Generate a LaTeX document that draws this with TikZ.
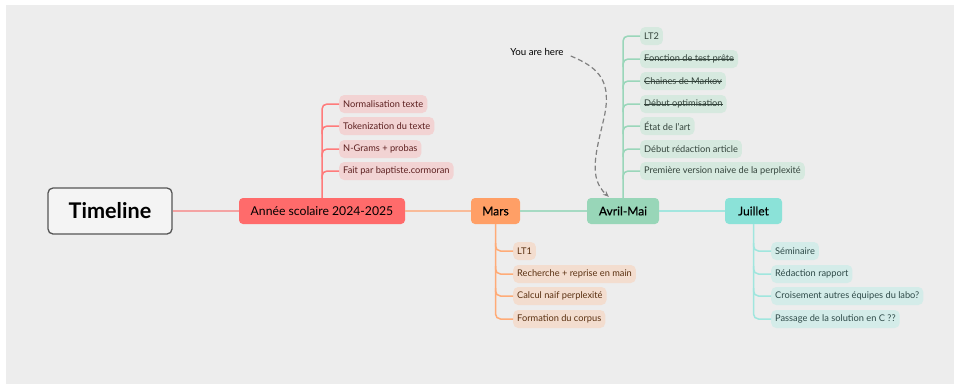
\documentclass[tikz,border=0pt]{standalone}
\usepackage{fontspec}
\setmainfont{Lato}
\newfontfamily\semifont{Lato}[FakeBold=0.7]
\usetikzlibrary{calc,arrows.meta}
\definecolor{bg}{HTML}{EDEDED}
\definecolor{tlborder}{HTML}{555555}
\definecolor{redfill}{HTML}{FF6B6B}
\definecolor{redline}{HTML}{F4A3A3}
\definecolor{redbr}{HTML}{FF7B7B}
\definecolor{redleaf}{HTML}{F2D3D3}
\definecolor{redtext}{HTML}{5C1F1F}
\definecolor{orfill}{HTML}{FF9F66}
\definecolor{orline}{HTML}{F9BB99}
\definecolor{orbr}{HTML}{FFAB77}
\definecolor{orleaf}{HTML}{F3DDCF}
\definecolor{ortext}{HTML}{5A3010}
\definecolor{grfill}{HTML}{98D6B8}
\definecolor{grline}{HTML}{A6DAC3}
\definecolor{grbr}{HTML}{9AD6BA}
\definecolor{grleaf}{HTML}{D6E9DF}
\definecolor{grtext}{HTML}{34443C}
\definecolor{cyfill}{HTML}{8BE2D8}
\definecolor{cyline}{HTML}{A3E6DF}
\definecolor{cybr}{HTML}{A0E6DE}
\definecolor{cyleaf}{HTML}{D4ECE9}
\definecolor{cytext}{HTML}{2E4A48}
\definecolor{arrowgray}{HTML}{808080}
\tikzset{
  mainbox/.style={rounded corners=4pt, minimum height=26pt, inner sep=0pt, font=\fontsize{12.2}{14}\selectfont, text=black},
  monthbox/.style={mainbox, font=\fontsize{12}{14}\selectfont\semifont},
  leaf/.style={rounded corners=5pt, minimum height=18pt, inner xsep=4pt, inner ysep=0pt, anchor=west, font=\fontsize{9.25}{11}\selectfont},
  redleafs/.style={leaf, fill=redleaf, text=redtext},
  orleafs/.style={leaf, fill=orleaf, text=ortext},
  grleafs/.style={leaf, fill=grleaf, text=grtext},
  cyleafs/.style={leaf, fill=cyleaf, text=cytext},
  br/.style={rounded corners=5pt, line width=1.5pt},
  link/.style={line width=1.5pt},
  strike/.style={grtext, line width=0.6pt},
}
\begin{document}
\begin{tikzpicture}[x=1pt,y=-1pt]
\useasboundingbox (0,0) rectangle (954,384);
\fill[white] (0,0) rectangle (954,384);
\fill[bg] (6,5) rectangle (954,384);

% main nodes
\node[draw=tlborder, fill=bg!60!white, line width=1.3pt, rounded corners=5pt, minimum width=124pt, minimum height=46pt, inner sep=0pt, font=\fontsize{21.6}{24}\selectfont\bfseries] (tl) at (110,211) {Timeline};
\node[mainbox, fill=redfill, minimum width=166pt] (annee) at (322,211) {Année scolaire 2024-2025};
\node[monthbox, fill=orfill, minimum width=49pt] (mars) at (495.5,211) {Mars};
\node[monthbox, fill=grfill, minimum width=72pt] (avril) at (623,211) {Avril-Mai};
\node[monthbox, fill=cyfill, minimum width=57pt] (juil) at (753.5,211) {Juillet};

\draw[link, redline] (tl) -- (annee);
\draw[link, orline] (annee) -- (mars);
\draw[link, grline] (mars) -- (avril);
\draw[link, cyline] (avril) -- (juil);

% Annee leaves
\node[redleafs] (a1) at (339,104) {Normalisation texte};
\node[redleafs] (a2) at (339,126) {Tokenization du texte};
\node[redleafs] (a3) at (339,149) {N-Grams + probas};
\node[redleafs] (a4) at (339,171) {Fait par baptiste.cormoran};
\draw[br, redbr] (annee.north) |- (a1.west);
\foreach \n in {a2,a3,a4} \draw[br, redbr] ($(annee.north |- \n.west)+(0,8)$) |- (\n.west);

% Mars leaves
\node[orleafs] (m1) at (513,251) {LT1};
\node[orleafs] (m2) at (513,274) {Recherche + reprise en main};
\node[orleafs] (m3) at (513,296) {Calcul naif perplexité};
\node[orleafs] (m4) at (513,319) {Formation du corpus};
\draw[br, orbr] (mars.south) |- (m4.west);
\foreach \n in {m1,m2,m3} \draw[br, orbr] ($(mars.south |- \n.west)+(0,-8)$) |- (\n.west);

% Avril leaves
\node[grleafs] (v1) at (640,36) {LT2};
\node[grleafs] (v2) at (640,59) {Fonction de test prête};
\node[grleafs] (v3) at (640,81) {Chaines de Markov};
\node[grleafs] (v4) at (640,104) {Début optimisation};
\node[grleafs] (v5) at (640,126) {État de l'art};
\node[grleafs] (v6) at (640,149) {Début rédaction article};
\node[grleafs] (v7) at (640,171) {Première version naive de la perplexité};
\foreach \n in {v2,v3,v4} \draw[strike] ($(\n.west)+(4,0.5)$) -- ($(\n.east)+(-4,0.5)$);
\draw[br, grbr] (avril.north) |- (v1.west);
\foreach \n in {v2,v3,v4,v5,v6,v7} \draw[br, grbr] ($(avril.north |- \n.west)+(0,8)$) |- (\n.west);

% Juillet leaves
\node[cyleafs] (j1) at (771,251) {Séminaire};
\node[cyleafs] (j2) at (771,274) {Rédaction rapport};
\node[cyleafs] (j3) at (771,296) {Croisement autres équipes du labo?};
\node[cyleafs] (j4) at (771,319) {Passage de la solution en C ??};
\draw[br, cybr] (juil.south) |- (j4.west);
\foreach \n in {j1,j2,j3} \draw[br, cybr] ($(juil.south |- \n.west)+(0,-8)$) |- (\n.west);

% You are here
\node[font=\fontsize{9.7}{11}\selectfont, text=black, inner sep=1pt] (here) at (537,52) {You are here};
\coordinate (hereEnd) at ($(avril.north west)+(22,-1)$);
\draw[arrowgray, line width=1.2pt, dash pattern=on 5pt off 3pt, -{Stealth[length=6pt,width=5pt]}]
  ($(here.east)+(6,4)$) .. controls (600,68) and (612,82) .. (604,118)
  .. controls (596,152) and (588,178) .. (hereEnd);
\end{tikzpicture}
\end{document}
